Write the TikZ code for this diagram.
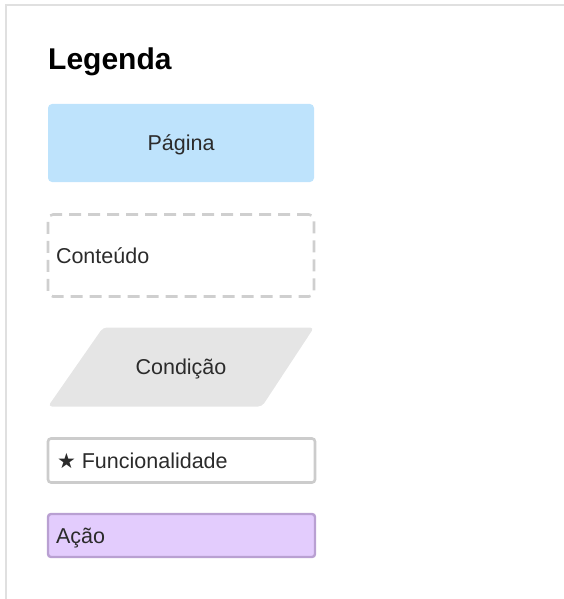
\documentclass[tikz,border=0pt]{standalone}
\usepackage{fontspec}
\setmainfont{Liberation Sans}
\newfontfamily\symfont{DejaVu Sans}
\definecolor{frame}{HTML}{E0E0E0}
\definecolor{pagefill}{HTML}{BEE3FC}
\definecolor{dashgray}{HTML}{CFCFCF}
\definecolor{condfill}{HTML}{E5E5E5}
\definecolor{funcgray}{HTML}{CCCCCC}
\definecolor{acaofill}{HTML}{E3CCFD}
\definecolor{acaodraw}{HTML}{B9A0D2}
\definecolor{txt}{HTML}{2B2B2B}
\begin{document}
\begin{tikzpicture}[x=1pt,y=-1pt,
  lbl/.style={font=\fontsize{21.5}{25}\selectfont, text=txt, text height=15.5pt, text depth=0pt},
  pagebox/.style={lbl, fill=pagefill, rounded corners=4pt, minimum width=266pt, minimum height=78pt, inner sep=0pt},
  contentbox/.style={lbl, draw=dashgray, line width=2.6pt, dash pattern=on 12pt off 7pt, rounded corners=5pt, text width=250pt, inner xsep=8pt, inner ysep=0pt, minimum height=82pt, align=left},
  funcbox/.style={lbl, draw=funcgray, line width=2.6pt, fill=white, rounded corners=3pt, text width=249pt, inner xsep=9pt, inner ysep=0pt, minimum height=44pt, align=left},
  acaobox/.style={lbl, draw=acaodraw, line width=2.4pt, fill=acaofill, rounded corners=3pt, text width=251pt, inner xsep=8pt, inner ysep=0pt, minimum height=43pt, align=left}
]
\useasboundingbox (0,0) rectangle (564,599);
\draw[frame, line width=2.5pt] (6,600) -- (6,5) -- (564,5);
\node[anchor=base west, font=\bfseries\fontsize{30}{34}\selectfont, inner sep=0pt] (title) at (48,70) {Legenda};
\node[pagebox] (pagina) at (181,143) {Página};
\node[contentbox] (conteudo) at (181,255.5) {Conteúdo};
\fill[condfill, rounded corners=4pt] (48,406.5) -- (103,327.5) -- (314,327.5) -- (262,406.5) -- cycle;
\node[lbl, inner sep=0pt] (condicao) at (181,367) {Condição};
\node[funcbox] (func) at (181.5,460.5) {{\symfont\fontsize{21}{24}\selectfont ★}\hspace{6pt}Funcionalidade};
\node[acaobox] (acao) at (181.5,535.5) {Ação};
\end{tikzpicture}
\end{document}
